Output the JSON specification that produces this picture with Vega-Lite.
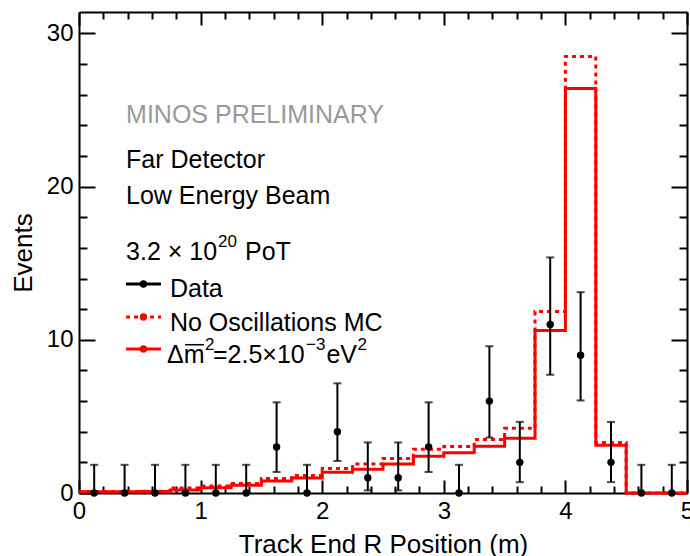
{
  "$schema": "https://vega.github.io/schema/vega-lite/v6.json",
  "width": 608,
  "height": 481,
  "autosize": {"type": "none"},
  "padding": {"left": 79, "top": 12, "right": 3, "bottom": 63},
  "background": "#ffffff",
  "config": {
    "view": {"stroke": null},
    "font": "Liberation Sans",
    "axis": {"labelFont": "Liberation Sans", "titleFont": "Liberation Sans", "labelColor": "#000", "titleColor": "#000", "grid": false}
  },
  "datasets": {
    "hist": [
      {"edge": 0, "value": 0.08, "series": "osc"},
      {"edge": 0.25, "value": 0.08, "series": "osc"},
      {"edge": 0.5, "value": 0.1, "series": "osc"},
      {"edge": 0.75, "value": 0.2, "series": "osc"},
      {"edge": 1.0, "value": 0.35, "series": "osc"},
      {"edge": 1.25, "value": 0.5, "series": "osc"},
      {"edge": 1.5, "value": 0.78, "series": "osc"},
      {"edge": 1.75, "value": 0.98, "series": "osc"},
      {"edge": 2.0, "value": 1.35, "series": "osc"},
      {"edge": 2.25, "value": 1.55, "series": "osc"},
      {"edge": 2.5, "value": 1.9, "series": "osc"},
      {"edge": 2.75, "value": 2.4, "series": "osc"},
      {"edge": 3.0, "value": 2.62, "series": "osc"},
      {"edge": 3.25, "value": 3.05, "series": "osc"},
      {"edge": 3.5, "value": 3.57, "series": "osc"},
      {"edge": 3.75, "value": 10.6, "series": "osc"},
      {"edge": 4.0, "value": 26.4, "series": "osc"},
      {"edge": 4.25, "value": 3.12, "series": "osc"},
      {"edge": 4.5, "value": 0, "series": "osc"},
      {"edge": 4.75, "value": 0, "series": "osc"},
      {"edge": 5.0, "value": 0, "series": "osc"},
      {"edge": 0, "value": 0.1, "series": "noosc"},
      {"edge": 0.25, "value": 0.1, "series": "noosc"},
      {"edge": 0.5, "value": 0.12, "series": "noosc"},
      {"edge": 0.75, "value": 0.33, "series": "noosc"},
      {"edge": 1.0, "value": 0.46, "series": "noosc"},
      {"edge": 1.25, "value": 0.62, "series": "noosc"},
      {"edge": 1.5, "value": 0.95, "series": "noosc"},
      {"edge": 1.75, "value": 1.15, "series": "noosc"},
      {"edge": 2.0, "value": 1.6, "series": "noosc"},
      {"edge": 2.25, "value": 1.9, "series": "noosc"},
      {"edge": 2.5, "value": 2.25, "series": "noosc"},
      {"edge": 2.75, "value": 2.85, "series": "noosc"},
      {"edge": 3.0, "value": 3.03, "series": "noosc"},
      {"edge": 3.25, "value": 3.5, "series": "noosc"},
      {"edge": 3.5, "value": 4.22, "series": "noosc"},
      {"edge": 3.75, "value": 11.85, "series": "noosc"},
      {"edge": 4.0, "value": 28.5, "series": "noosc"},
      {"edge": 4.25, "value": 3.3, "series": "noosc"},
      {"edge": 4.5, "value": 0, "series": "noosc"},
      {"edge": 4.75, "value": 0, "series": "noosc"},
      {"edge": 5.0, "value": 0, "series": "noosc"}
    ],
    "obs": [
      {"x": 0.125, "n": 0, "lo": 0, "hi": 1.84},
      {"x": 0.375, "n": 0, "lo": 0, "hi": 1.84},
      {"x": 0.625, "n": 0, "lo": 0, "hi": 1.84},
      {"x": 0.875, "n": 0, "lo": 0, "hi": 1.84},
      {"x": 1.125, "n": 0, "lo": 0, "hi": 1.84},
      {"x": 1.375, "n": 0, "lo": 0, "hi": 1.84},
      {"x": 1.625, "n": 3, "lo": 1.37, "hi": 5.92},
      {"x": 1.875, "n": 0, "lo": 0, "hi": 1.84},
      {"x": 2.125, "n": 4, "lo": 2.09, "hi": 7.16},
      {"x": 2.375, "n": 1, "lo": 0.17, "hi": 3.3},
      {"x": 2.625, "n": 1, "lo": 0.17, "hi": 3.3},
      {"x": 2.875, "n": 3, "lo": 1.37, "hi": 5.92},
      {"x": 3.125, "n": 0, "lo": 0, "hi": 1.84},
      {"x": 3.375, "n": 6, "lo": 3.62, "hi": 9.58},
      {"x": 3.625, "n": 2, "lo": 0.71, "hi": 4.64},
      {"x": 3.875, "n": 11, "lo": 7.72, "hi": 15.38},
      {"x": 4.125, "n": 9, "lo": 6.04, "hi": 13.11},
      {"x": 4.375, "n": 2, "lo": 0.71, "hi": 4.64},
      {"x": 4.625, "n": 0, "lo": 0, "hi": 1.84},
      {"x": 4.875, "n": 0, "lo": 0, "hi": 1.84}
    ],
    "key": [
      {"series": "data", "x1": 0.387, "x2": 0.674, "xm": 0.53, "y": 13.64},
      {"series": "noosc", "x1": 0.387, "x2": 0.674, "xm": 0.53, "y": 11.49},
      {"series": "osc", "x1": 0.387, "x2": 0.674, "xm": 0.53, "y": 9.4}
    ],
    "bar": [
      {"x1": 0.872, "x2": 1.028, "y": 9.68}
    ],
    "notes": [
      {"text": "Far Detector", "x": 0.387, "y": 21.2},
      {"text": "Low Energy Beam", "x": 0.387, "y": 18.86},
      {"text": "3.2 × 10", "x": 0.387, "y": 15.2},
      {"text": "PoT", "x": 1.365, "y": 15.2},
      {"text": "Data", "x": 0.748, "y": 12.8},
      {"text": "No Oscillations MC", "x": 0.748, "y": 10.57},
      {"text": "Δm", "x": 0.724, "y": 8.5},
      {"text": "=2.5×10", "x": 1.102, "y": 8.5},
      {"text": "eV", "x": 2.035, "y": 8.5}
    ],
    "sups": [
      {"text": "20", "x": 1.143, "y": 16.07},
      {"text": "2", "x": 1.036, "y": 9.35},
      {"text": "−3", "x": 1.867, "y": 9.35},
      {"text": "2", "x": 2.29, "y": 9.35}
    ],
    "stamp": [
      {"text": "MINOS PRELIMINARY", "x": 0.387, "y": 24.15}
    ]
  },
  "resolve": {"axis": {"x": "independent", "y": "independent"}},
  "layer": [
    {
      "data": {"name": "hist"},
      "mark": {"type": "line", "interpolate": "step-after", "strokeWidth": 3, "clip": false},
      "encoding": {
        "x": {
          "field": "edge", "type": "quantitative",
          "scale": {"domain": [0, 5], "nice": false, "zero": false},
          "axis": {
            "orient": "bottom",
            "values": [0,0.2,0.4,0.6,0.8,1,1.2,1.4,1.6,1.8,2,2.2,2.4,2.6,2.8,3,3.2,3.4,3.6,3.8,4,4.2,4.4,4.6,4.8,5],
            "labelExpr": "abs(datum.value - round(datum.value)) < 0.01 ? '' + round(datum.value) : ''",
            "tickSize": {"condition": {"test": "abs(datum.value - round(datum.value)) < 0.01", "value": -13}, "value": -7},
            "tickColor": "#000", "tickWidth": 2,
            "labelPadding": 19, "labelFontSize": 24, "labelFlush": false, "labelOverlap": false,
            "domainColor": "#000", "domainWidth": 2,
            "title": "Track End R Position (m)", "titleFontSize": 26, "titleFontWeight": "normal", "titlePadding": 2
          }
        },
        "y": {
          "field": "value", "type": "quantitative",
          "scale": {"domain": [0, 31.4], "nice": false},
          "axis": {
            "orient": "left",
            "values": [0,2,4,6,8,10,12,14,16,18,20,22,24,26,28,30],
            "labelExpr": "datum.value % 10 === 0 ? datum.label : ''",
            "tickSize": {"condition": {"test": "datum.value % 10 === 0", "value": -16}, "value": -8},
            "tickColor": "#000", "tickWidth": 2,
            "labelPadding": 22, "labelFontSize": 24, "labelFlush": false, "labelOverlap": false,
            "domainColor": "#000", "domainWidth": 2,
            "title": "Events", "titleFontSize": 26, "titleFontWeight": "normal", "titlePadding": 10
          }
        },
        "color": {"field": "series", "type": "nominal", "scale": {"domain": ["data", "noosc", "osc"], "range": ["#000000", "#ff0000", "#ff0000"]}, "legend": null},
        "strokeDash": {"field": "series", "type": "nominal", "scale": {"domain": ["data", "noosc", "osc"], "range": [[1, 0], [4, 4], [1, 0]]}, "legend": null}
      }
    },
    {
      "data": {"name": "obs"},
      "mark": {"type": "rule", "strokeWidth": 2, "color": "#000"},
      "encoding": {
        "x": {
          "field": "x", "type": "quantitative",
          "axis": {
            "orient": "top",
            "values": [0,0.2,0.4,0.6,0.8,1,1.2,1.4,1.6,1.8,2,2.2,2.4,2.6,2.8,3,3.2,3.4,3.6,3.8,4,4.2,4.4,4.6,4.8,5],
            "labels": false, "title": null,
            "tickSize": {"condition": {"test": "abs(datum.value - round(datum.value)) < 0.01", "value": -13}, "value": -7},
            "tickColor": "#000", "tickWidth": 2,
            "domainColor": "#000", "domainWidth": 2
          }
        },
        "y": {
          "field": "lo", "type": "quantitative",
          "axis": {
            "orient": "right",
            "values": [0,2,4,6,8,10,12,14,16,18,20,22,24,26,28,30],
            "labels": false, "title": null,
            "tickSize": {"condition": {"test": "datum.value % 10 === 0", "value": -16}, "value": -8},
            "tickColor": "#000", "tickWidth": 2,
            "domainColor": "#000", "domainWidth": 2
          }
        },
        "y2": {"field": "hi"}
      }
    },
    {
      "data": {"name": "obs"},
      "mark": {"type": "tick", "orient": "horizontal", "size": 8, "thickness": 2, "color": "#000"},
      "encoding": {
        "x": {"field": "x", "type": "quantitative", "axis": null},
        "y": {"field": "hi", "type": "quantitative", "axis": null}
      }
    },
    {
      "data": {"name": "obs"},
      "mark": {"type": "tick", "orient": "horizontal", "size": 8, "thickness": 2, "color": "#000"},
      "encoding": {
        "x": {"field": "x", "type": "quantitative", "axis": null},
        "y": {"field": "lo", "type": "quantitative", "axis": null}
      }
    },
    {
      "data": {"name": "obs"},
      "mark": {"type": "point", "filled": true, "size": 55, "opacity": 1, "color": "#000"},
      "encoding": {
        "x": {"field": "x", "type": "quantitative", "axis": null},
        "y": {"field": "n", "type": "quantitative", "axis": null}
      }
    },
    {
      "data": {"name": "key"},
      "mark": {"type": "rule", "strokeWidth": 3},
      "encoding": {
        "x": {"field": "x1", "type": "quantitative", "axis": null},
        "x2": {"field": "x2"},
        "y": {"field": "y", "type": "quantitative", "axis": null},
        "color": {"field": "series", "type": "nominal", "legend": null},
        "strokeDash": {"field": "series", "type": "nominal", "legend": null}
      }
    },
    {
      "data": {"name": "key"},
      "mark": {"type": "point", "filled": true, "size": 55, "opacity": 1},
      "encoding": {
        "x": {"field": "xm", "type": "quantitative", "axis": null},
        "y": {"field": "y", "type": "quantitative", "axis": null},
        "color": {"field": "series", "type": "nominal", "legend": null}
      }
    },
    {
      "data": {"name": "bar"},
      "mark": {"type": "rule", "strokeWidth": 1.5, "color": "#000"},
      "encoding": {
        "x": {"field": "x1", "type": "quantitative", "axis": null},
        "x2": {"field": "x2"},
        "y": {"field": "y", "type": "quantitative", "axis": null}
      }
    },
    {
      "data": {"name": "notes"},
      "mark": {"type": "text", "align": "left", "baseline": "alphabetic", "fontSize": 25, "font": "Liberation Sans", "color": "#000"},
      "encoding": {
        "x": {"field": "x", "type": "quantitative", "axis": null},
        "y": {"field": "y", "type": "quantitative", "axis": null},
        "text": {"field": "text"}
      }
    },
    {
      "data": {"name": "sups"},
      "mark": {"type": "text", "align": "left", "baseline": "alphabetic", "fontSize": 17, "font": "Liberation Sans", "color": "#000"},
      "encoding": {
        "x": {"field": "x", "type": "quantitative", "axis": null},
        "y": {"field": "y", "type": "quantitative", "axis": null},
        "text": {"field": "text"}
      }
    },
    {
      "data": {"name": "stamp"},
      "mark": {"type": "text", "align": "left", "baseline": "alphabetic", "fontSize": 25, "font": "Liberation Sans", "color": "#999999"},
      "encoding": {
        "x": {"field": "x", "type": "quantitative", "axis": null},
        "y": {"field": "y", "type": "quantitative", "axis": null},
        "text": {"field": "text"}
      }
    }
  ]
}
